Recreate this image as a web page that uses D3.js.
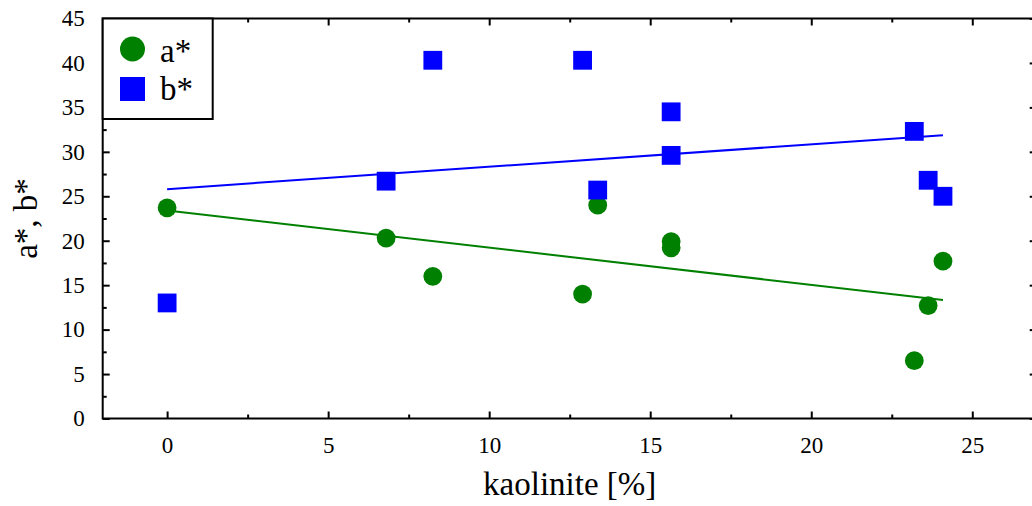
<!DOCTYPE html>
<html>
<head>
<meta charset="utf-8">
<script src="https://cdn.jsdelivr.net/npm/d3@7"></script>
<style>
  html, body { margin: 0; padding: 0; background: #fff; overflow: hidden; }
  svg { display: block; }
  text { font-family: "Liberation Serif", "Times New Roman", serif; fill: #000; }
</style>
</head>
<body>
<svg id="chart" width="1032" height="506"></svg>
<script>
// kaolinite content of each sample [%]
const kaolinite = [0, 6.8, 8.25, 12.9, 13.37, 15.65, 15.65, 23.2, 23.63, 24.09];
// colour coordinates measured on the same samples
const aStar = [23.7, 20.3, 16.0, 14.0, 24.0, 19.9, 19.2, 6.5, 12.7, 17.7];
const bStar = [13.0, 26.7, 40.3, 40.3, 25.7, 34.5, 29.6, 32.3, 26.8, 25.0];

const xTicks = [0, 5, 10, 15, 20, 25];
const xMinorTicks = [2.5, 7.5, 12.5, 17.5, 22.5];
const yTicks = [0, 5, 10, 15, 20, 25, 30, 35, 40, 45];
const yMinorTicks = [2.5, 7.5, 12.5, 17.5, 22.5, 27.5, 32.5, 37.5, 42.5];

const seriesNames = ["a*", "b*"];
const seriesColors = ["#008000", "#0000ff"];

const svg = d3.select("#chart");
const L = 102.7, R = 1036.7, T = 18.5, B = 418.5;

const x = d3.scaleLinear().domain([-2, 27]).range([L, R]);
const y = d3.scaleLinear().domain([0, 45]).range([B, T]);

// least-squares line through a series
function fit(xs, ys) {
  const mx = d3.mean(xs), my = d3.mean(ys);
  let sxy = 0, sxx = 0;
  xs.forEach((v, i) => { sxy += (v - mx) * (ys[i] - my); sxx += (v - mx) * (v - mx); });
  const slope = sxy / sxx;
  return { slope, intercept: my - slope * mx };
}

// frame
svg.append("rect")
  .attr("x", L).attr("y", T).attr("width", R - L).attr("height", B - T)
  .attr("fill", "none").attr("stroke", "#000").attr("stroke-width", 2);

function styleAxis(g) {
  g.select(".domain").remove();
  g.selectAll("line").attr("stroke", "#000").attr("stroke-width", 2);
}

// bottom axis with inward ticks
svg.append("g").attr("transform", `translate(0,${B})`)
  .call(d3.axisBottom(x).tickValues(xTicks).tickSize(-7).tickPadding(18).tickFormat(d3.format("d")))
  .call(styleAxis)
  .call(g => g.selectAll("text").attr("font-size", 23).attr("font-family", "Liberation Serif"));
svg.append("g").attr("transform", `translate(0,${B})`)
  .call(d3.axisBottom(x).tickValues(xMinorTicks).tickSize(-4).tickFormat(""))
  .call(styleAxis);

// top axis ticks
svg.append("g").attr("transform", `translate(0,${T})`)
  .call(d3.axisTop(x).tickValues(xTicks).tickSize(-7).tickFormat(""))
  .call(styleAxis);
svg.append("g").attr("transform", `translate(0,${T})`)
  .call(d3.axisTop(x).tickValues(xMinorTicks).tickSize(-4).tickFormat(""))
  .call(styleAxis);

// left axis
svg.append("g").attr("transform", `translate(${L},0)`)
  .call(d3.axisLeft(y).tickValues(yTicks).tickSize(-7).tickPadding(18).tickFormat(d3.format("d")))
  .call(styleAxis)
  .call(g => g.selectAll("text").attr("font-size", 23).attr("font-family", "Liberation Serif"));
svg.append("g").attr("transform", `translate(${L},0)`)
  .call(d3.axisLeft(y).tickValues(yMinorTicks).tickSize(-4).tickFormat(""))
  .call(styleAxis);

// right axis ticks
svg.append("g").attr("transform", `translate(${R},0)`)
  .call(d3.axisRight(y).tickValues(yTicks).tickSize(-7).tickFormat(""))
  .call(styleAxis);
svg.append("g").attr("transform", `translate(${R},0)`)
  .call(d3.axisRight(y).tickValues(yMinorTicks).tickSize(-4).tickFormat(""))
  .call(styleAxis);

// axis titles
svg.append("text")
  .attr("x", (L + R) / 2).attr("y", 495)
  .attr("text-anchor", "middle").attr("font-size", 33)
  .text("kaolinite [%]");
svg.append("text")
  .attr("transform", `translate(37,${(T + B) / 2}) rotate(-90)`)
  .attr("text-anchor", "middle").attr("font-size", 33)
  .text("a*, b*");

// fitted trend lines
const xs = [0, d3.max(kaolinite)];
[aStar, bStar].forEach((ys, i) => {
  const f = fit(kaolinite, ys);
  svg.append("line")
    .attr("x1", x(xs[0])).attr("y1", y(f.intercept + f.slope * xs[0]))
    .attr("x2", x(xs[1])).attr("y2", y(f.intercept + f.slope * xs[1]))
    .attr("stroke", seriesColors[i]).attr("stroke-width", 2);
});

// a* points
svg.append("g").selectAll("circle")
  .data(kaolinite.map((k, i) => [k, aStar[i]]))
  .join("circle")
  .attr("cx", d => x(d[0])).attr("cy", d => y(d[1])).attr("r", 9.4)
  .attr("fill", seriesColors[0]);

// b* points
const sq = 18.8;
svg.append("g").selectAll("rect")
  .data(kaolinite.map((k, i) => [k, bStar[i]]))
  .join("rect")
  .attr("x", d => x(d[0]) - sq / 2).attr("y", d => y(d[1]) - sq / 2)
  .attr("width", sq).attr("height", sq)
  .attr("fill", seriesColors[1]);

// legend
const lg = svg.append("g");
lg.append("rect")
  .attr("x", L).attr("y", T).attr("width", 110).attr("height", 100.5)
  .attr("fill", "#fff").attr("stroke", "#000").attr("stroke-width", 2);
lg.append("circle").attr("cx", 132.5).attr("cy", 49).attr("r", 12.5).attr("fill", seriesColors[0]);
lg.append("rect").attr("x", 120).attr("y", 77).attr("width", 25).attr("height", 24).attr("fill", seriesColors[1]);
lg.selectAll("text.lab").data(seriesNames).join("text")
  .attr("class", "lab")
  .attr("x", 160).attr("y", (d, i) => i === 0 ? 62 : 100)
  .attr("font-size", 33)
  .text(d => d);
</script>
</body>
</html>
